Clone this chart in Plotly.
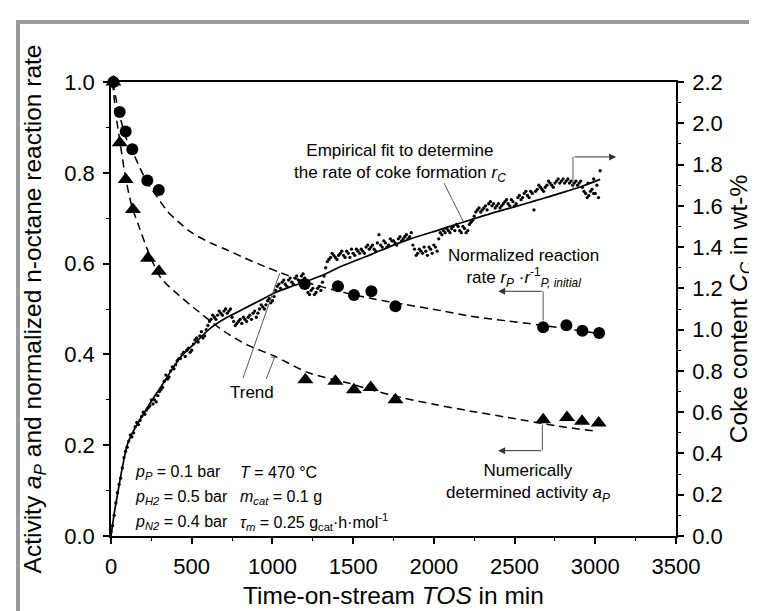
import plotly.graph_objects as go

# ---------------- data ----------------
coke_tos = [0, 20, 40, 60, 80, 100, 120, 140, 160, 180,
            200, 220, 240, 260, 280, 300, 320, 340, 360, 380,
            400, 420, 440, 460, 480, 500, 520, 540, 560, 580,
            600, 620, 640, 660, 680, 700, 720, 740, 760, 780,
            800, 820, 840, 860, 880, 900, 920, 940, 960, 980,
            1000, 1020, 1040, 1060, 1080, 1100, 1120, 1140, 1160, 1180,
            1200, 1220, 1240, 1260, 1280, 1300, 1320, 1340, 1360, 1380,
            1400, 1420, 1440, 1460, 1480, 1500, 1520, 1540, 1560, 1580,
            1600, 1620, 1640, 1660, 1680, 1700, 1720, 1740, 1760, 1780,
            1800, 1820, 1840, 1860, 1880, 1900, 1920, 1940, 1960, 1980,
            2000, 2020, 2040, 2060, 2080, 2100, 2120, 2140, 2160, 2180,
            2200, 2220, 2240, 2260, 2280, 2300, 2320, 2340, 2360, 2380,
            2400, 2420, 2440, 2460, 2480, 2500, 2520, 2540, 2560, 2580,
            2600, 2620, 2640, 2660, 2680, 2700, 2720, 2740, 2760, 2780,
            2800, 2820, 2840, 2860, 2880, 2900, 2920, 2940, 2960, 2980,
            3000, 3020, 3030, 2990, 2955]
coke_content = [0.02, 0.10, 0.21, 0.28, 0.38, 0.43, 0.49, 0.50, 0.55, 0.56,
                0.60, 0.61, 0.63, 0.64, 0.65, 0.70, 0.72, 0.78, 0.77, 0.82,
                0.83, 0.86, 0.88, 0.87, 0.91, 0.90, 0.95, 0.94, 0.99, 0.97,
                1.02, 1.05, 1.06, 1.07, 1.08, 1.09, 1.08, 1.10, 1.04, 1.03,
                1.05, 1.06, 1.04, 1.07, 1.08, 1.06, 1.10, 1.11, 1.12, 1.15,
                1.14, 1.19, 1.22, 1.23, 1.22, 1.24, 1.23, 1.25, 1.24, 1.26,
                1.25, 1.18, 1.19, 1.17, 1.20, 1.19, 1.26, 1.33, 1.35, 1.36,
                1.34, 1.37, 1.36, 1.38, 1.35, 1.37, 1.39, 1.37, 1.38, 1.40,
                1.39, 1.41, 1.38, 1.46, 1.40, 1.42, 1.41, 1.43, 1.42, 1.44,
                1.43, 1.45, 1.44, 1.47, 1.39, 1.37, 1.38, 1.40, 1.36, 1.39,
                1.41, 1.38, 1.47, 1.48, 1.49, 1.47, 1.50, 1.51, 1.48, 1.50,
                1.47, 1.51, 1.53, 1.57, 1.59, 1.58, 1.60, 1.61, 1.60, 1.59,
                1.61, 1.60, 1.62, 1.61, 1.63, 1.60, 1.64, 1.63, 1.66, 1.65,
                1.67, 1.58, 1.68, 1.69, 1.67, 1.70, 1.71, 1.69, 1.72, 1.71,
                1.73, 1.72, 1.71, 1.70, 1.72, 1.71, 1.69, 1.66, 1.65, 1.68,
                1.66, 1.64, 1.77, 1.73, 1.71]

# second set of coke readings (between the first ones)
coke_tos_b = [10, 30, 50, 70, 90, 110, 130, 150, 170, 190,
              210, 230, 250, 270, 290, 310, 330, 350, 370, 390,
              410, 430, 450, 470, 490, 510, 530, 550, 570, 590,
              610, 630, 650, 670, 690, 710, 730, 750, 770, 790,
              810, 830, 850, 870, 890, 910, 930, 950, 970, 990,
              1010, 1030, 1050, 1070, 1090, 1110, 1130, 1150, 1170, 1190,
              1210, 1230, 1250, 1270, 1290, 1310, 1330, 1350, 1370, 1390,
              1410, 1430, 1450, 1470, 1490, 1510, 1530, 1550, 1570, 1590,
              1610, 1630, 1650, 1670, 1690, 1710, 1730, 1750, 1770, 1790,
              1810, 1830, 1850, 1870, 1890, 1910, 1930, 1950, 1970, 1990,
              2010, 2030, 2050, 2070, 2090, 2110, 2130, 2150, 2170, 2190,
              2210, 2230, 2250, 2270, 2290, 2310, 2330, 2350, 2370, 2390,
              2410, 2430, 2450, 2470, 2490, 2510, 2530, 2550, 2570, 2590,
              2610, 2630, 2650, 2670, 2690, 2710, 2730, 2750, 2770, 2790,
              2810, 2830, 2850, 2870, 2890, 2910, 2930, 2950, 2970, 2990,
              3010]
coke_content_b = [0.05, 0.16, 0.25, 0.33, 0.41, 0.46, 0.48, 0.53, 0.54, 0.58,
                  0.59, 0.62, 0.66, 0.66, 0.68, 0.71, 0.75, 0.76, 0.80, 0.81,
                  0.85, 0.86, 0.89, 0.90, 0.89, 0.93, 0.96, 0.97, 0.96, 1.00,
                  1.04, 1.07, 1.05, 1.09, 1.07, 1.10, 1.09, 1.06, 1.02, 1.04,
                  1.03, 1.05, 1.06, 1.05, 1.09, 1.08, 1.12, 1.10, 1.14, 1.13,
                  1.16, 1.21, 1.20, 1.24, 1.21, 1.25, 1.22, 1.26, 1.23, 1.27,
                  1.22, 1.17, 1.20, 1.18, 1.21, 1.23, 1.30, 1.34, 1.37, 1.35,
                  1.36, 1.38, 1.35, 1.37, 1.39, 1.36, 1.38, 1.39, 1.37, 1.41,
                  1.40, 1.39, 1.42, 1.41, 1.43, 1.40, 1.44, 1.43, 1.41, 1.45,
                  1.44, 1.46, 1.45, 1.41, 1.36, 1.39, 1.37, 1.38, 1.40, 1.37,
                  1.40, 1.44, 1.46, 1.47, 1.48, 1.49, 1.48, 1.50, 1.47, 1.49,
                  1.48, 1.52, 1.55, 1.58, 1.57, 1.59, 1.58, 1.62, 1.61, 1.60,
                  1.59, 1.61, 1.63, 1.60, 1.62, 1.61, 1.65, 1.64, 1.67, 1.64,
                  1.66, 1.67, 1.70, 1.68, 1.69, 1.72, 1.70, 1.71, 1.73, 1.72,
                  1.71, 1.73, 1.72, 1.71, 1.70, 1.72, 1.67, 1.64, 1.67, 1.66,
                  1.70]

fit_tos = [0, 20, 40, 60, 80, 100, 140, 200, 260, 320, 380, 440, 520, 620,
           720, 820, 920, 1020, 1120, 1220, 1320, 1420, 1520, 1620, 1720,
           1820, 1920, 2020, 2120, 2220, 2320, 2420, 2520, 2620, 2720, 2820,
           2920, 3030]
fit_coke = [0.0, 0.11, 0.20, 0.29, 0.37, 0.44, 0.51, 0.59, 0.665, 0.735,
            0.81, 0.875, 0.935, 1.01, 1.06, 1.10, 1.14, 1.18, 1.21, 1.237,
            1.267, 1.305, 1.336, 1.367, 1.40, 1.43, 1.456, 1.48, 1.506, 1.53,
            1.555, 1.578, 1.60, 1.623, 1.646, 1.67, 1.695, 1.728]

rate_tos = [15, 54, 91, 132, 225, 296, 1200, 1406, 1505, 1613, 1762,
            2677, 2821, 2920, 3024]
rate_norm = [1.0, 0.934, 0.891, 0.852, 0.783, 0.762, 0.555, 0.55, 0.531,
             0.539, 0.506, 0.46, 0.464, 0.452, 0.447]

act_tos = [15, 54, 91, 136, 229, 297, 1204, 1390, 1505, 1609, 1762,
           2677, 2825, 2918, 3021]
activity = [1.0, 0.866, 0.785, 0.719, 0.612, 0.583, 0.344, 0.341, 0.322,
            0.327, 0.30, 0.256, 0.261, 0.253, 0.249]

rate_trend_tos = [10, 30, 55, 90, 130, 180, 230, 290, 350, 415, 500, 620,
                  720, 830, 950, 1050, 1200, 1400, 1600, 1820, 2050, 2230,
                  2450, 2650, 2850, 3040]
rate_trend = [1.0, 0.965, 0.925, 0.88, 0.85, 0.81, 0.775, 0.745, 0.715,
              0.693, 0.668, 0.645, 0.63, 0.612, 0.594, 0.580, 0.56, 0.54,
              0.524, 0.51, 0.496, 0.484, 0.474, 0.465, 0.455, 0.445]

act_trend_tos = [10, 30, 55, 90, 130, 170, 230, 310, 415, 540, 700, 850,
                 1015, 1220, 1470, 1610, 1800, 2000, 2230, 2460, 2770, 3000]
act_trend = [1.0, 0.93, 0.87, 0.79, 0.725, 0.685, 0.627, 0.568, 0.532,
             0.495, 0.451, 0.42, 0.396, 0.36, 0.337, 0.322, 0.305, 0.29,
             0.275, 0.261, 0.242, 0.231]

x_ticks = [0, 500, 1000, 1500, 2000, 2500, 3000, 3500]
x_minor = [250, 750, 1250, 1750, 2250, 2750, 3250]
y_ticks = [0.0, 0.2, 0.4, 0.6, 0.8, 1.0]
y_minor = [0.1, 0.3, 0.5, 0.7, 0.9]
y2_ticks = [0.0, 0.2, 0.4, 0.6, 0.8, 1.0, 1.2, 1.4, 1.6, 1.8, 2.0, 2.2]
y2_minor = [0.1, 0.3, 0.5, 0.7, 0.9, 1.1, 1.3, 1.5, 1.7, 1.9, 2.1]

FONT = "Liberation Sans, Arial, sans-serif"
TICKFONT = dict(family=FONT, size=22, color="black")
TITLEFONT = dict(family=FONT, size=24.5, color="black")
ANN = dict(family=FONT, size=17, color="black")
PAR = dict(family=FONT, size=16, color="black")

fig = go.Figure()

for xs, ys in ((coke_tos, coke_content), (coke_tos_b, coke_content_b)):
    fig.add_trace(go.Scatter(x=xs, y=ys, yaxis="y2", mode="markers",
                             marker=dict(size=3.3, color="black"), cliponaxis=False,
                             showlegend=False))
fig.add_trace(go.Scatter(x=fit_tos, y=fit_coke, yaxis="y2", mode="lines",
                         line=dict(color="black", width=1.7, shape="spline", smoothing=0.8),
                         showlegend=False))
fig.add_trace(go.Scatter(x=rate_trend_tos, y=rate_trend, mode="lines",
                         line=dict(color="black", width=1.5, dash="8px,5px",
                                   shape="spline", smoothing=0.8),
                         showlegend=False))
fig.add_trace(go.Scatter(x=act_trend_tos, y=act_trend, mode="lines",
                         line=dict(color="black", width=1.5, dash="8px,5px",
                                   shape="spline", smoothing=0.8),
                         showlegend=False))
fig.add_trace(go.Scatter(x=rate_tos, y=rate_norm, mode="markers",
                         marker=dict(symbol="circle", size=12, color="black"),
                         cliponaxis=False, showlegend=False))
fig.add_trace(go.Scatter(x=act_tos, y=activity, mode="markers",
                         marker=dict(symbol="triangle-up", size=14, color="black"),
                         cliponaxis=False, showlegend=False))

axis_common = dict(showline=True, linecolor="black", linewidth=1.5,
                   ticks="outside", ticklen=6, tickwidth=1.5, tickcolor="black",
                   showgrid=False, zeroline=False, tickfont=TICKFONT,
                   ticklabelstandoff=4)

fig.update_layout(
    width=757, height=611, autosize=False,
    margin=dict(l=103, r=89, t=74, b=83),
    paper_bgcolor="white", plot_bgcolor="white",
    font=dict(family=FONT, color="black"),
    xaxis=dict(range=[0, 3500], tickmode="array", tickvals=x_ticks, mirror=True,
               minor=dict(tickmode="array", tickvals=x_minor, ticks="outside",
                          ticklen=3.5, tickwidth=1.2, tickcolor="black"),
               title=dict(text="Time-on-stream <i>TOS</i> in min",
                          font=TITLEFONT, standoff=9),
               **axis_common),
    yaxis=dict(range=[0, 1.0], tickmode="array", tickvals=y_ticks,
               ticktext=[f"{v:.1f}" for v in y_ticks],
               minor=dict(tickmode="array", tickvals=y_minor, ticks="outside",
                          ticklen=3.5, tickwidth=1.2, tickcolor="black"),
               title=dict(text="Activity <i>a</i><sub><i>P</i></sub> and normalized n-octane reaction rate",
                          font=TITLEFONT, standoff=16),
               **axis_common),
    yaxis2=dict(range=[0, 2.2], overlaying="y", side="right", tickmode="array",
                tickvals=y2_ticks, ticktext=[f"{v:.1f}" for v in y2_ticks],
                minor=dict(tickmode="array", tickvals=y2_minor, ticks="outside",
                           ticklen=3.5, tickwidth=1.2, tickcolor="black"),
                title=dict(text="Coke content <i>C</i><sub><i>C</i></sub> in wt-%",
                           font=TITLEFONT, standoff=8),
                **axis_common),
)

# gray frame around the figure
fig.add_shape(type="rect", xref="paper", yref="paper",
              x0=-0.1646, x1=1.1451, y0=-0.30, y1=1.132,
              line=dict(color="#9a9a9a", width=4), fillcolor="rgba(0,0,0,0)", layer="below")

GRAY = "#555555"
# leader lines
fig.add_shape(type="line", xref="x", yref="y2", x0=2063, y0=1.71, x1=2181, y1=1.526,
              line=dict(color=GRAY, width=1))
fig.add_shape(type="line", xref="x", yref="y", x0=818, y0=0.348, x1=1045, y1=0.579,
              line=dict(color=GRAY, width=1))
fig.add_shape(type="line", xref="x", yref="y", x0=962, y0=0.346, x1=1014, y1=0.394,
              line=dict(color=GRAY, width=1))
fig.add_shape(type="line", xref="x", yref="y", x0=993, y0=0.394, x1=1024, y1=0.394,
              line=dict(color=GRAY, width=1))
# arrow stems
fig.add_shape(type="line", xref="x", yref="y2", x0=2862, y0=1.68, x1=2862, y1=1.837,
              line=dict(color=GRAY, width=1))
fig.add_shape(type="line", xref="x", yref="y", x0=2677, y0=0.475, x1=2677, y1=0.539,
              line=dict(color=GRAY, width=1))
fig.add_shape(type="line", xref="x", yref="y", x0=2672, y0=0.245, x1=2672, y1=0.188,
              line=dict(color=GRAY, width=1))

# arrows with heads
fig.add_annotation(x=3129, y=1.837, xref="x", yref="y2", ax=2862, ay=1.837,
                   axref="x", ayref="y2", text="", showarrow=True, arrowhead=2,
                   arrowsize=1.4, arrowwidth=1, arrowcolor="#333333")
fig.add_annotation(x=2398, y=0.539, xref="x", yref="y", ax=2677, ay=0.539,
                   axref="x", ayref="y", text="", showarrow=True, arrowhead=2,
                   arrowsize=1.4, arrowwidth=1, arrowcolor="#333333")
fig.add_annotation(x=2398, y=0.188, xref="x", yref="y", ax=2672, ay=0.188,
                   axref="x", ayref="y", text="", showarrow=True, arrowhead=2,
                   arrowsize=1.4, arrowwidth=1, arrowcolor="#333333")

# text labels
fig.add_annotation(x=1790, y=0.822, xref="x", yref="y", showarrow=False, align="center",
                   text="Empirical fit to determine<br>the rate of coke formation <i>r</i><sub><i>C</i></sub>",
                   font=ANN)
fig.add_annotation(x=2553, y=0.590, xref="x", yref="y", showarrow=False, align="center",
                   text="Normalized reaction<br>rate <i>r</i><sub><i>P</i></sub> ·<i>r</i><sup>-1</sup><sub><i>P, initial</i></sub>",
                   font=ANN)
fig.add_annotation(x=874, y=0.317, xref="x", yref="y", showarrow=False,
                   text="Trend", font=ANN)
fig.add_annotation(x=2584, y=0.117, xref="x", yref="y", showarrow=False, align="center",
                   text="Numerically<br>determined activity <i>a</i><sub><i>P</i></sub>",
                   font=ANN)

left_txt = ["<i>p</i><sub><i>P</i></sub> = 0.1 bar",
            "<i>p</i><sub><i>H2</i></sub> = 0.5 bar",
            "<i>p</i><sub><i>N2</i></sub> = 0.4 bar"]
right_txt = ["<i>T</i> = 470 °C",
             "<i>m</i><sub><i>cat</i></sub> = 0.1 g",
             "<i>τ</i><sub><i>m</i></sub> = 0.25 g<sub>cat</sub>·h·mol<sup>-1</sup>"]
rows_y = [0.139, 0.085, 0.030]
for txt, yy in zip(left_txt, rows_y):
    fig.add_annotation(x=136, y=yy, xref="x", yref="y", xanchor="left", showarrow=False,
                       text=txt, font=PAR)
for txt, yy in zip(right_txt, rows_y):
    fig.add_annotation(x=787, y=yy, xref="x", yref="y", xanchor="left", showarrow=False,
                       text=txt, font=PAR)

fig.write_html("out.html")
